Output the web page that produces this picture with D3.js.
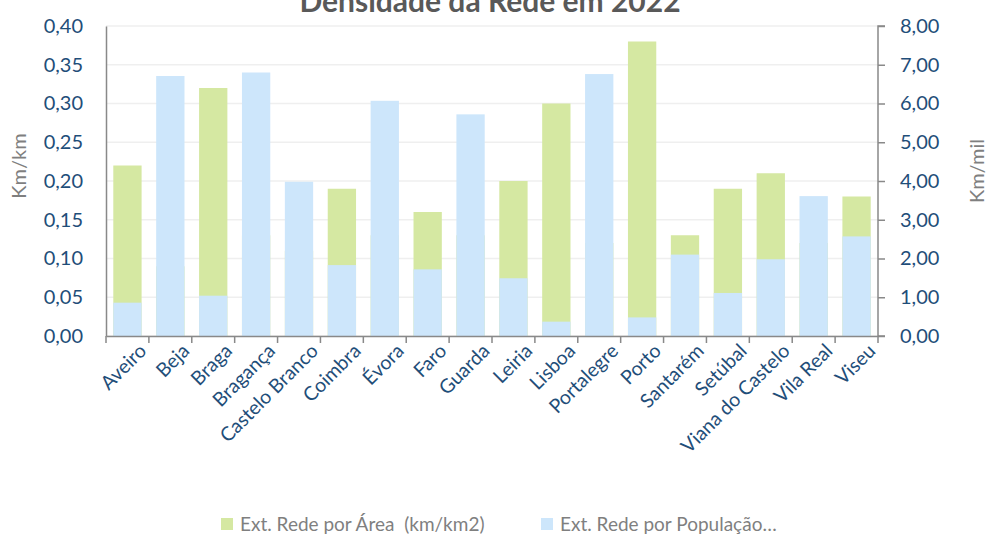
<!DOCTYPE html>
<html>
<head>
<meta charset="utf-8">
<script src="https://cdn.jsdelivr.net/npm/d3@7"></script>
<style>
  body { margin: 0; background: #fff; }
  text { font-family: Lato, "Open Sans", sans-serif; white-space: pre; }
</style>
</head>
<body>
<svg id="chart"></svg>
<script>
var categories = ["Aveiro", "Beja", "Braga", "Bragança", "Castelo Branco", "Coimbra", "Évora", "Faro",
    "Guarda", "Leiria", "Lisboa", "Portalegre", "Porto", "Santarém", "Setúbal", "Viana do Castelo",
    "Vila Real", "Viseu"];
// km/km2 (left axis)
var areaValues = [0.22, 0.09, 0.32, 0.13, 0.11, 0.19, 0.13, 0.16, 0.13, 0.20, 0.30, 0.12, 0.38, 0.13,
    0.19, 0.21, 0.12, 0.18];
// km/mil habitantes (right axis)
var popValues = [0.86, 6.71, 1.04, 6.80, 3.98, 1.83, 6.07, 1.72, 5.72, 1.49, 0.37, 6.76, 0.48, 2.10,
    1.11, 1.98, 3.61, 2.57];
var leftTicks = [0, 0.05, 0.10, 0.15, 0.20, 0.25, 0.30, 0.35, 0.40];
var rightTicks = [0, 1, 2, 3, 4, 5, 6, 7, 8];
var legendLabels = ["Ext. Rede por Área  (km/km2)", "Ext. Rede por População…"];

var screen = {width: 996, height: 545};
var margins = {top: 26, left: 106, right: 118, bottom: 209};
var graph = {
    width: screen.width - margins.left - margins.right,
    height: screen.height - margins.top - margins.bottom
};
var green = "#d5e8a2", blue = "#cde6fb", tickColor = "#1f4e79", grey = "#7f7f7f";

var svg = d3.select("#chart")
    .attr("width", screen.width)
    .attr("height", screen.height);

var xScale = d3.scaleBand()
    .domain(categories)
    .range([0, graph.width])
    .paddingInner(0.34)
    .paddingOuter(0.17);
var yLeft = d3.scaleLinear().domain([0, 0.4]).range([graph.height, 0]);
var yRight = d3.scaleLinear().domain([0, 8]).range([graph.height, 0]);

var g = svg.append("g")
    .attr("transform", "translate(" + margins.left + "," + margins.top + ")");

// gridlines
g.append("g")
    .selectAll("line")
    .data(leftTicks)
    .enter()
    .append("line")
    .attr("x1", 0)
    .attr("x2", graph.width)
    .attr("y1", d => yLeft(d))
    .attr("y2", d => yLeft(d))
    .attr("stroke", "#efefef")
    .attr("stroke-width", 1.5);

// green bars behind, blue in front
g.append("g")
    .selectAll("rect")
    .data(categories)
    .enter()
    .append("rect")
    .attr("x", d => xScale(d))
    .attr("y", (d, i) => yLeft(areaValues[i]))
    .attr("width", xScale.bandwidth())
    .attr("height", (d, i) => graph.height - yLeft(areaValues[i]))
    .attr("fill", green);

g.append("g")
    .selectAll("rect")
    .data(categories)
    .enter()
    .append("rect")
    .attr("x", d => xScale(d))
    .attr("y", (d, i) => yRight(popValues[i]))
    .attr("width", xScale.bandwidth())
    .attr("height", (d, i) => graph.height - yRight(popValues[i]))
    .attr("fill", blue);

var fmt = function(digits) {
    return d => d.toFixed(digits).replace(".", ",");
};

// axes
var leftAxis = g.append("g")
    .call(d3.axisLeft(yLeft).tickValues(leftTicks).tickFormat(fmt(2)).tickSize(0).tickPadding(23));
var rightAxis = g.append("g")
    .attr("transform", "translate(" + graph.width + ",0)")
    .call(d3.axisRight(yRight).tickValues(rightTicks).tickFormat(fmt(2)).tickSize(7).tickPadding(15));
var bottomAxis = g.append("g")
    .attr("transform", "translate(0," + graph.height + ")")
    .call(d3.axisBottom(xScale).tickSize(0).tickPadding(10));

[leftAxis, rightAxis, bottomAxis].forEach(function(ax) {
    ax.select(".domain").attr("stroke", "#898989").attr("stroke-width", 1.5);
    ax.selectAll(".tick line").attr("stroke", "#898989").attr("stroke-width", 1.5);
    ax.selectAll("text").attr("fill", tickColor).style("font-size", "20px");
});
rightAxis.select(".domain").attr("d", "M7,0H0V" + graph.height + "H7");

// category boundary ticks
var step = xScale.step();
bottomAxis.append("g")
    .selectAll("line")
    .data(d3.range(categories.length + 1))
    .enter()
    .append("line")
    .attr("x1", d => xScale(categories[0]) - (step - xScale.bandwidth()) / 2 + d * step)
    .attr("x2", d => xScale(categories[0]) - (step - xScale.bandwidth()) / 2 + d * step)
    .attr("y1", 0)
    .attr("y2", 7)
    .attr("stroke", "#898989")
    .attr("stroke-width", 1.5);

bottomAxis.selectAll(".tick text")
    .attr("text-anchor", "end")
    .attr("dy", "0.3em")
    .attr("transform", "translate(9,5) rotate(-45)")
    .style("font-size", "19.5px");

// titles
svg.append("text")
    .text("Densidade da Rede em 2022")
    .attr("x", 490)
    .attr("y", 12)
    .attr("text-anchor", "middle")
    .attr("fill", "#595959")
    .style("font-size", "30px")
    .style("font-weight", "bold");

svg.append("g")
    .attr("transform", "translate(26," + (margins.top + graph.height / 2 - 15) + ")")
    .append("text")
    .text("Km/km")
    .attr("text-anchor", "middle")
    .attr("transform", "rotate(-90)")
    .attr("fill", grey)
    .style("font-size", "20px");

svg.append("g")
    .attr("transform", "translate(984," + (margins.top + graph.height / 2 - 10) + ")")
    .append("text")
    .text("Km/mil")
    .attr("text-anchor", "middle")
    .attr("transform", "rotate(-90)")
    .attr("fill", grey)
    .style("font-size", "20px");

// legend
var legendX = [221, 541];
var legend = svg.append("g")
    .selectAll("g")
    .data(legendLabels)
    .enter()
    .append("g")
    .attr("transform", (d, i) => "translate(" + legendX[i] + ",518)");
legend.append("rect")
    .attr("width", 12)
    .attr("height", 12)
    .attr("fill", (d, i) => i == 0 ? green : blue);
legend.append("text")
    .text(d => d)
    .attr("x", 19)
    .attr("y", 13)
    .attr("fill", grey)
    .style("font-size", "19px");
</script>
</body>
</html>
